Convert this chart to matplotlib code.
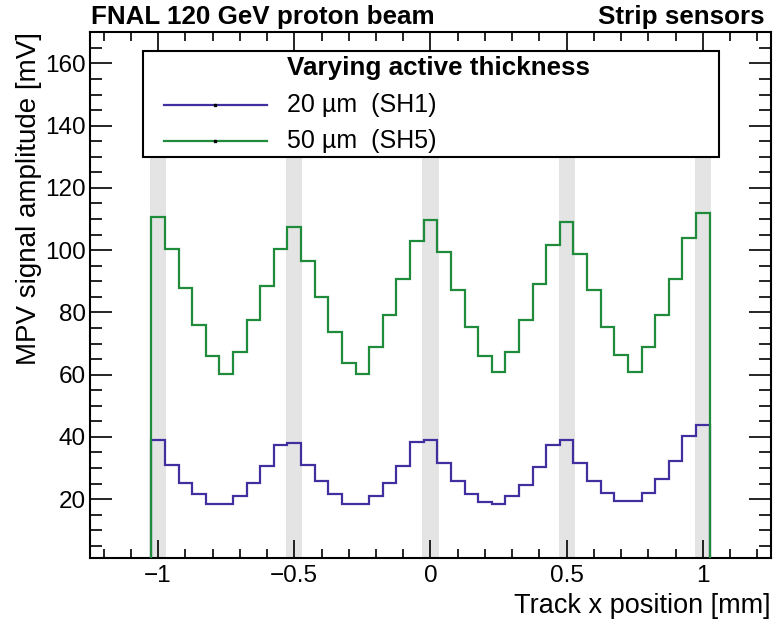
import numpy as np
import matplotlib
matplotlib.use("Agg")
import matplotlib.pyplot as plt
from matplotlib.patches import Rectangle
from matplotlib.ticker import MultipleLocator, FixedLocator, FixedFormatter

# histogram binning: 41 bins of 50 um centred on -1.0 ... 1.0 mm
bin_low = -1.025
bin_width = 0.05
n_bins = 41

# MPV signal amplitude [mV] per bin
mpv_sh1 = [39.0, 30.9, 25.1, 21.5, 18.5, 18.5, 20.9, 25.1, 30.5, 37.5,
           38.2, 31.0, 25.8, 21.5, 18.5, 18.5, 20.9, 25.1, 30.5, 38.3,
           39.0, 31.7, 25.8, 21.5, 19.0, 18.5, 20.9, 24.5, 30.3, 37.5,
           39.0, 31.6, 25.8, 22.1, 19.3, 19.3, 22.1, 26.5, 32.4, 40.3, 43.9]
mpv_sh5 = [110.6, 100.3, 87.8, 76.1, 66.0, 60.2, 67.4, 77.7, 88.6, 100.3,
           107.5, 96.5, 84.9, 73.8, 63.8, 60.2, 69.0, 79.1, 90.7, 103.1,
           109.6, 99.5, 87.2, 75.4, 66.0, 60.8, 67.3, 77.6, 89.1, 101.7,
           108.9, 98.8, 87.2, 75.4, 66.2, 60.8, 69.0, 79.1, 90.7, 103.8, 111.9]

series_labels = ["20 \u00b5m  (SH1)", "50 \u00b5m  (SH5)"]
legend_title = "Varying active thickness"

# metal strips (grey bands)
strip_centres = [-1.0, -0.5, 0.0, 0.5, 1.0]
strip_width = 0.06
strip_top = 150

xtick_vals = [-1, -0.5, 0, 0.5, 1]
xtick_labels = ["\u22121", "\u22120.5", "0", "0.5", "1"]

blue = "#3f2f9f"
green = "#1f8b3b"

plt.rcParams['font.family'] = ['Liberation Sans', 'DejaVu Sans']

fig = plt.figure(figsize=(7.75, 6.22), dpi=100)
ax = fig.add_axes([0.1161, 0.1024, 0.8787, 0.8457])

edges = bin_low + bin_width * np.arange(n_bins + 1)

ax.bar(strip_centres, [strip_top] * len(strip_centres), width=strip_width,
       bottom=0, color="#e4e4e4", linewidth=0, zorder=0)
ax.stairs(mpv_sh1, edges, baseline=0, color=blue, linewidth=1.6, zorder=2)
ax.stairs(mpv_sh5, edges, baseline=0, color=green, linewidth=1.6, zorder=3)

ax.set_xlim(-1.25, 1.25)
ax.set_ylim(1, 170)

ax.xaxis.set_major_locator(FixedLocator(xtick_vals))
ax.xaxis.set_major_formatter(FixedFormatter(xtick_labels))
ax.xaxis.set_minor_locator(MultipleLocator(0.1))
ax.yaxis.set_major_locator(MultipleLocator(20))
ax.yaxis.set_minor_locator(MultipleLocator(5))

ax.tick_params(which='both', direction='in', top=True, right=True,
               width=1.2, labelsize=17.5)
ax.tick_params(axis='x', which='major', length=13, pad=5)
ax.tick_params(axis='x', which='minor', length=6.5)
ax.tick_params(axis='y', which='major', length=15.5, pad=3)
ax.tick_params(axis='y', which='minor', length=8.8)
for sp in ax.spines.values():
    sp.set_linewidth(1.5)

ax.set_xlabel("Track x position [mm]", loc='right', fontsize=19.5, labelpad=4)
ax.set_ylabel("MPV signal amplitude [mV]", loc='top', fontsize=20, labelpad=2)

# legend box drawn by hand, ROOT style
box = Rectangle((0.0774, 0.7624), 0.8467, 0.2026, transform=ax.transAxes,
                facecolor='white', edgecolor='black', linewidth=1.5, zorder=5)
ax.add_patch(box)
ax.text(0.2888, 0.932, legend_title, transform=ax.transAxes, fontsize=18.7,
        fontweight='bold', va='center', ha='left', zorder=6)
for lab, col, yy in zip(series_labels, [blue, green], [0.8618, 0.7933]):
    ax.plot([0.1091, 0.2595], [yy, yy], transform=ax.transAxes, color=col,
            linewidth=1.6, zorder=6, clip_on=False)
    ax.plot([0.1843], [yy], transform=ax.transAxes, marker='s', markersize=1.8,
            color='black', zorder=7, clip_on=False)
    ax.text(0.2888, yy, lab, transform=ax.transAxes, fontsize=18,
            va='center', ha='left', zorder=6)

fig.text(0.118, 0.9614, "FNAL 120 GeV proton beam", fontsize=18.7,
         fontweight='bold', va='baseline', ha='left')
fig.text(0.987, 0.9614, "Strip sensors", fontsize=18.7,
         fontweight='bold', va='baseline', ha='right')

fig.savefig("out.png", dpi=100)
